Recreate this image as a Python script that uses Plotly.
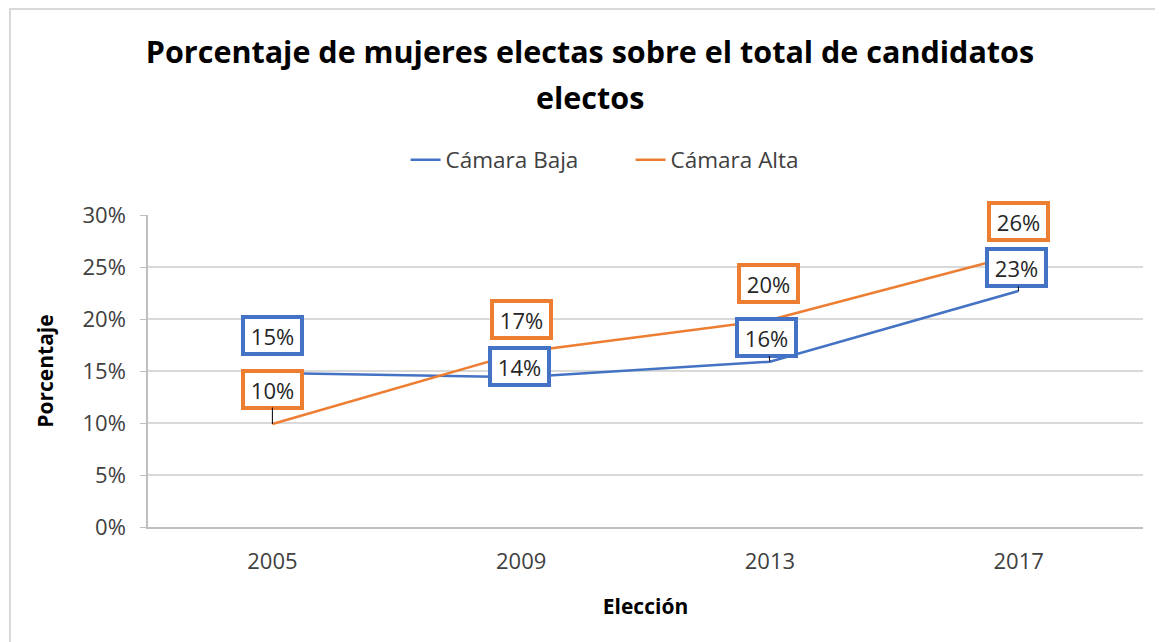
import plotly.graph_objects as go

years = ["2005", "2009", "2013", "2017"]
baja = [0.148, 0.144, 0.159, 0.227]
alta = [0.099, 0.168, 0.199, 0.262]
baja_labels = ["15%", "14%", "16%", "23%"]
alta_labels = ["10%", "17%", "20%", "26%"]
y_ticks = [0, 0.05, 0.10, 0.15, 0.20, 0.25, 0.30]
y_tick_labels = ["0%", "5%", "10%", "15%", "20%", "25%", "30%"]

BLUE = "#4472C4"
ORANGE = "#ED7D31"
FONT = "Open Sans"

# pixel offsets of the label boxes relative to their points, and whether a leader line shows (styling)
baja_off = [(0, -38), (-2, -11), (-3, -24), (-2, -23)]
alta_off = [(0, -35), (0, -33), (-1, -37), (0, -33)]
baja_leader = [False, False, True, True]
alta_leader = [True, False, False, False]

fig = go.Figure()
fig.add_trace(go.Scatter(x=years, y=baja, mode="lines", name="Cámara Baja",
                         line=dict(color=BLUE, width=2.5)))
fig.add_trace(go.Scatter(x=years, y=alta, mode="lines", name="Cámara Alta",
                         line=dict(color=ORANGE, width=2.5)))

annotations = []
for series, labels, offs, leads, col in [(baja, baja_labels, baja_off, baja_leader, BLUE),
                                         (alta, alta_labels, alta_off, alta_leader, ORANGE)]:
    for i, (yv, lab, off, lead) in enumerate(zip(series, labels, offs, leads)):
        annotations.append(dict(
            x=i, y=yv, xref="x", yref="y", text=lab,
            showarrow=True, arrowhead=0, arrowwidth=1,
            arrowcolor="#000000" if lead else "rgba(0,0,0,0)",
            ax=off[0], ay=off[1], axref="pixel", ayref="pixel", standoff=0,
            width=51, height=29, align="center", valign="middle",
            bgcolor="white", bordercolor=col, borderwidth=4, borderpad=2,
            font=dict(family=FONT, size=22, color="#262626")))

annotations.append(dict(
    text="<b>electos</b>", xref="paper", yref="paper", x=0.4442, y=1.378,
    xanchor="center", yanchor="middle", showarrow=False,
    font=dict(family=FONT, size=30.5, color="#000000")))

fig.update_layout(
    width=1163, height=642,
    margin=dict(l=140, r=28, t=207, b=123, autoexpand=False),
    paper_bgcolor="white", plot_bgcolor="white",
    font=dict(family=FONT, color="#595959"),
    title=dict(text="<b>Porcentaje de mujeres electas sobre el total de candidatos</b>",
               x=0.5004, xanchor="center", y=0.9315, yanchor="middle",
               font=dict(family=FONT, size=30.5, color="#000000")),
    legend=dict(orientation="h", x=0.485, xanchor="center", y=1.176, yanchor="middle",
                font=dict(family=FONT, size=22.5, color="#404040"),
                entrywidth=180, traceorder="normal"),
    annotations=annotations,
    shapes=[dict(type="rect", xref="paper", yref="paper",
                 x0=-0.1387, x1=1.05, y0=-0.45, y1=1.660,
                 line=dict(color="#D9D9D9", width=2), fillcolor="rgba(0,0,0,0)", layer="below")],
)
fig.update_xaxes(type="category", range=[-0.5, 3.5], showgrid=False,
                 showline=True, linecolor="#BFBFBF", linewidth=1.5, ticks="",
                 ticklabelstandoff=14,
                 tickfont=dict(family=FONT, size=22, color="#404040"),
                 title=dict(text="<b>Elección</b>", font=dict(family=FONT, size=21, color="#000000"),
                            standoff=25))
fig.update_yaxes(range=[0, 0.30], tickvals=y_ticks, ticktext=y_tick_labels,
                 showgrid=True, gridcolor="#D9D9D9", gridwidth=1.5,
                 showline=True, linecolor="#BFBFBF", linewidth=1.5,
                 ticks="outside", ticklen=6, tickcolor="#BFBFBF", zeroline=False,
                 ticklabelstandoff=10,
                 tickfont=dict(family=FONT, size=22, color="#404040"),
                 title=dict(text="<b>Porcentaje</b>", font=dict(family=FONT, size=21, color="#000000"),
                            standoff=23))

fig.write_html("out.html")
